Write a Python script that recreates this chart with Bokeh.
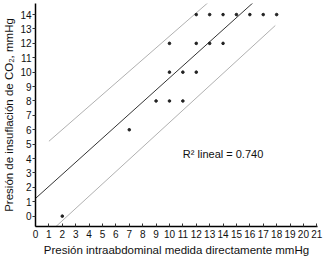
from bokeh.plotting import figure
from bokeh.models import Range1d, FixedTicker, Label
from bokeh.embed import file_html
from bokeh.resources import INLINE

# data
x_vals = [2, 7, 9, 10, 11, 10, 11, 12, 10, 12, 13, 14, 12, 13, 14, 15, 16, 17, 18]
y_vals = [0, 6, 8, 8, 8, 10, 10, 10, 12, 12, 12, 12, 14, 14, 14, 14, 14, 14, 14]

# fit line and prediction band endpoints
fit_x = [0, 17]
fit_y = [1.23, 15.46]
upper_x = [1.0, 13.0]
upper_y = [5.2, 14.93]
lower_x = [1.0, 17.9]
lower_y = [-1.17, 13.24]

x_ticks = list(range(0, 22))
y_ticks = list(range(0, 15))
x_label = "Presión intraabdominal medida directamente mmHg"
y_label = "Presión de insuflación de CO₂, mmHg"
r2_text = "R² lineal = 0.740"

FONT = "Liberation Sans"

p = figure(width=324, height=258, output_backend="svg", toolbar_location=None,
           x_range=Range1d(0, 21.05), y_range=Range1d(-0.72, 14.77),
           min_border_left=33, min_border_right=7, min_border_top=3, min_border_bottom=32)
p.outline_line_color = None
p.grid.visible = False
p.background_fill_color = "white"
p.border_fill_color = "white"

p.line(upper_x, upper_y, line_color="#b0b0b0", line_width=1)
p.line(lower_x, lower_y, line_color="#b0b0b0", line_width=1)
p.line(fit_x, fit_y, line_color="#333333", line_width=1)
p.scatter(x_vals, y_vals, size=2.6, color="#222222")

p.add_layout(Label(x=11.0, y=4.3, text=r2_text, text_font=FONT, text_font_size="11px",
                   text_baseline="middle", text_color="#111111"))

xa = p.xaxis[0]
xa.ticker = FixedTicker(ticks=x_ticks)
xa.minor_tick_line_color = None
xa.major_tick_in = 3
xa.major_tick_out = 0
xa.major_label_standoff = 3
xa.axis_line_width = 1.5
xa.axis_line_color = "black"
xa.major_tick_line_color = "#333333"
xa.major_label_text_font = FONT
xa.major_label_text_font_size = "10px"
xa.major_label_text_color = "#111111"
xa.axis_label = x_label
xa.axis_label_text_font = FONT
xa.axis_label_text_font_size = "11.5px"
xa.axis_label_text_font_style = "normal"
xa.axis_label_standoff = 3
xa.axis_label_text_color = "#111111"

ya = p.yaxis[0]
ya.ticker = FixedTicker(ticks=y_ticks)
ya.minor_tick_line_color = None
ya.major_tick_in = 0
ya.major_tick_out = 3
ya.major_label_standoff = 1
ya.axis_line_width = 1.5
ya.axis_line_color = "black"
ya.major_tick_line_color = "#333333"
ya.major_label_text_font = FONT
ya.major_label_text_font_size = "10px"
ya.major_label_text_color = "#111111"
ya.axis_label = y_label
ya.axis_label_text_font = FONT
ya.axis_label_text_font_size = "11.5px"
ya.axis_label_text_font_style = "normal"
ya.axis_label_standoff = 2
ya.axis_label_text_color = "#111111"

open("out.html", "w").write(file_html(p, INLINE))
